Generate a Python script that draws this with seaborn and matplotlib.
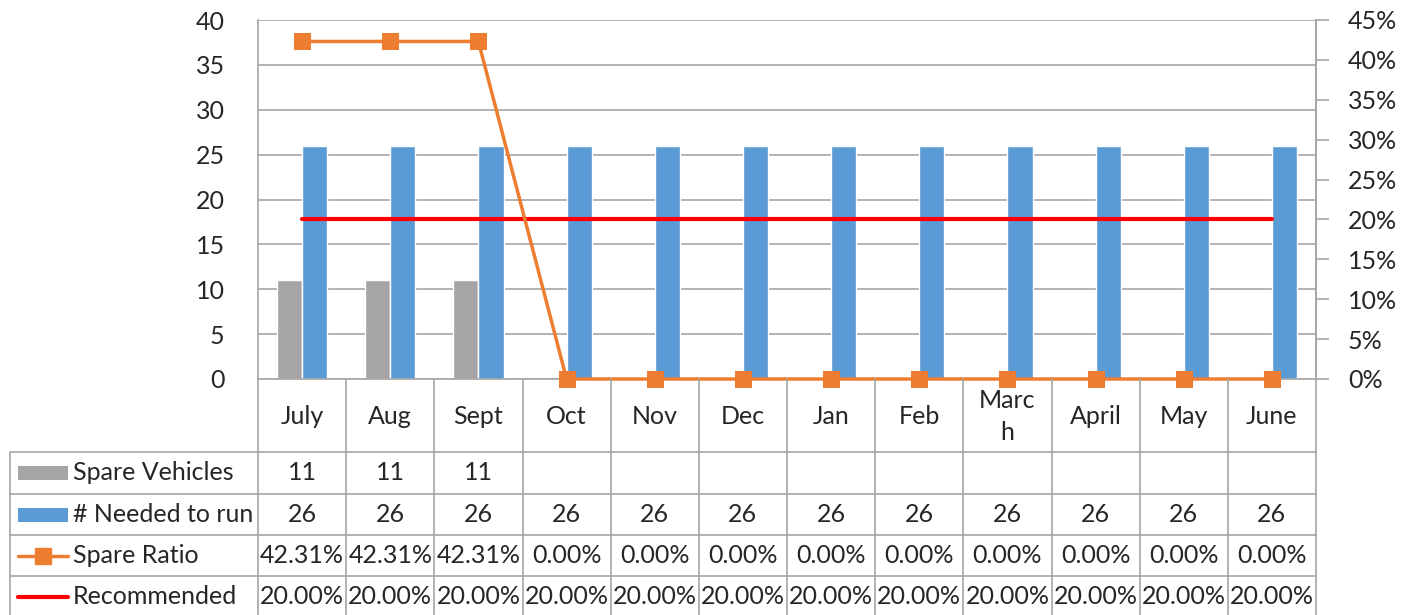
import numpy as np
import pandas as pd
import matplotlib
matplotlib.use("Agg")
import matplotlib.pyplot as plt
import seaborn as sns

# chart data
months = ["July", "Aug", "Sept", "Oct", "Nov", "Dec", "Jan", "Feb", "March", "April", "May", "June"]
month_labels = ["July", "Aug", "Sept", "Oct", "Nov", "Dec", "Jan", "Feb", "Marc\nh", "April", "May", "June"]
spare_vehicles = [11, 11, 11, None, None, None, None, None, None, None, None, None]
needed_to_run = [26, 26, 26, 26, 26, 26, 26, 26, 26, 26, 26, 26]
spare_ratio = [0.4231, 0.4231, 0.4231, 0, 0, 0, 0, 0, 0, 0, 0, 0]
recommended = [0.20] * 12

left_ticks = [0, 5, 10, 15, 20, 25, 30, 35, 40]
right_ticks = [0, 0.05, 0.10, 0.15, 0.20, 0.25, 0.30, 0.35, 0.40, 0.45]

GRAY = "#A5A5A5"
BLUE = "#5B9BD5"
ORANGE = "#ED7D31"
RED = "#FF0000"
GRID = "#A6A6A6"

sns.set_style("white")
plt.rcParams["font.family"] = ["Lato", "DejaVu Sans"]
FS = 18

W, H = 1401, 615
fig = plt.figure(figsize=(W / 100, H / 100), dpi=100)

# plot area in pixels
x0, x1, y_top, y_axis = 258, 1316, 20, 379
ax = fig.add_axes([x0 / W, 1 - y_axis / H, (x1 - x0) / W, (y_axis - y_top) / H])

# bars in long form
bars = pd.DataFrame({
    "month": months * 2,
    "series": ["Spare Vehicles"] * 12 + ["# Needed to run"] * 12,
    "value": spare_vehicles + needed_to_run,
}).dropna()
sns.barplot(data=bars, x="month", y="value", hue="series", order=months,
            hue_order=["Spare Vehicles", "# Needed to run"],
            palette=[GRAY, BLUE], width=0.57, gap=0, saturation=1,
            legend=False, ax=ax)
ax.set_xlim(-0.5, 11.5)
ax.set_ylim(0, 40)
ax.set_yticks(left_ticks)
ax.set_yticklabels([str(t) for t in left_ticks], fontsize=FS)
ax.set_xticks([])
ax.set_xlabel("")
ax.set_ylabel("")
ax.tick_params(axis="y", length=0, pad=24)
ax.grid(axis="y", color=GRID, linewidth=1.2)
ax.set_axisbelow(True)
for s in ax.spines.values():
    s.set_color(GRID)
    s.set_linewidth(1.2)
ax.spines["top"].set_visible(False)

# secondary axis for ratios
ax2 = ax.twinx()
xs = np.arange(len(months))
sns.lineplot(x=xs, y=recommended, color=RED, linewidth=3, ax=ax2, zorder=4)
sns.lineplot(x=xs, y=spare_ratio, color=ORANGE, linewidth=2.5, marker="s",
             markersize=11, markeredgecolor=ORANGE, clip_on=False, ax=ax2, zorder=5)
ax2.set_ylim(0, 0.45)
ax2.set_yticks(right_ticks)
ax2.set_yticklabels([f"{int(round(t * 100))}%" for t in right_ticks], fontsize=FS)
ax2.tick_params(axis="y", length=9, width=1.2, color=GRID, pad=14)
ax2.set_xlim(-0.5, 11.5)
for s in ax2.spines.values():
    s.set_visible(False)
ax2.spines["right"].set_visible(True)
ax2.spines["right"].set_color(GRID)
ax2.spines["right"].set_linewidth(1.2)

# data table below the plot, same x scale, y in pixel rows
tab = fig.add_axes([x0 / W, 0, (x1 - x0) / W, (H - y_axis) / H])
tab.set_xlim(-0.5, 11.5)
tab.set_ylim(H, y_axis)
tab.axis("off")
rows_y = [379, 452, 494, 535, 576, 617]
cw = (x1 - x0) / 12
hdr_left = -0.5 - (x0 - 10) / cw
line_kw = dict(color=GRID, linewidth=1.2, clip_on=False)

# category row
for i in range(13):
    tab.plot([i - 0.5, i - 0.5], [rows_y[0], rows_y[-1]], **line_kw)
for i, lab in enumerate(month_labels):
    tab.text(i, (rows_y[0] + rows_y[1]) / 2 + 1, lab, ha="center", va="center",
             fontsize=FS, linespacing=1.5)

# table rows
for y in rows_y[1:-1]:
    tab.plot([hdr_left, 11.5], [y, y], **line_kw)
tab.plot([hdr_left, hdr_left], [rows_y[1], rows_y[-1]], **line_kw)

row_names = ["Spare Vehicles", "# Needed to run", "Spare Ratio", "Recommended"]
row_vals = [
    ["" if v is None else str(v) for v in spare_vehicles],
    [str(v) for v in needed_to_run],
    [f"{v * 100:.2f}%" for v in spare_ratio],
    [f"{v * 100:.2f}%" for v in recommended],
]
key_l = hdr_left + 8 / cw
key_r = hdr_left + 58 / cw
txt_x = hdr_left + 63 / cw
for r, (name, vals) in enumerate(zip(row_names, row_vals)):
    yc = (rows_y[r + 1] + rows_y[r + 2]) / 2
    tab.text(txt_x, yc, name, ha="left", va="center", fontsize=FS, clip_on=False)
    for i, v in enumerate(vals):
        tab.text(i, yc, v, ha="center", va="center", fontsize=FS)
    if r == 0:
        tab.fill_between([key_l, key_r], yc - 7, yc + 7, color=GRAY, clip_on=False, linewidth=0)
    elif r == 1:
        tab.fill_between([key_l, key_r], yc - 7, yc + 7, color=BLUE, clip_on=False, linewidth=0)
    elif r == 2:
        tab.plot([key_l, key_r], [yc, yc], color=ORANGE, linewidth=2.5, clip_on=False)
        tab.plot([(key_l + key_r) / 2], [yc], marker="s", markersize=11,
                 color=ORANGE, clip_on=False)
    else:
        tab.plot([key_l, key_r], [yc, yc], color=RED, linewidth=3, clip_on=False)

fig.savefig("out.png", dpi=100)
